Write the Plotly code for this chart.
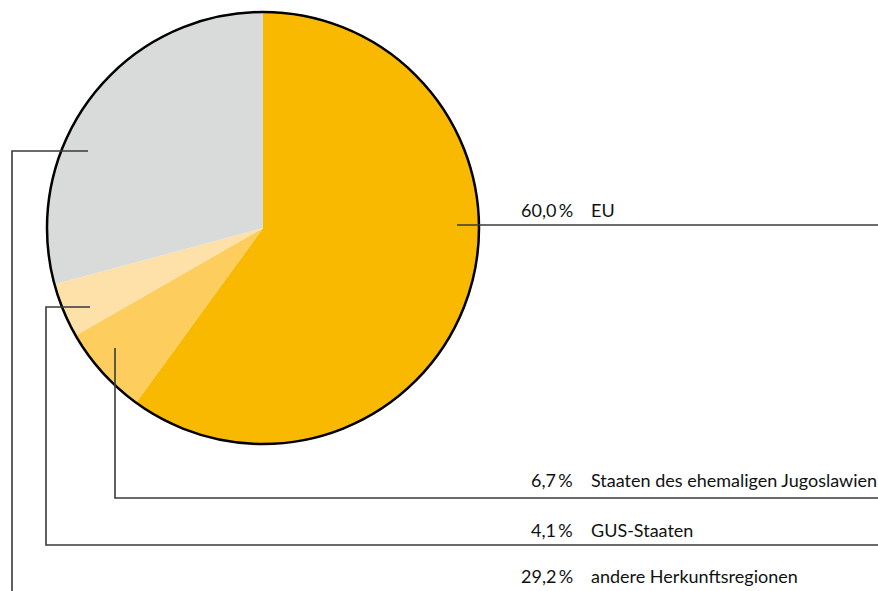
import plotly.graph_objects as go

W, H = 878, 591

# Data
categories = ["EU", "Staaten des ehemaligen Jugoslawien", "GUS-Staaten", "andere Herkunftsregionen"]
values = [60.0, 6.7, 4.1, 29.2]
value_labels = ["60,0\u2009%", "6,7\u2009%", "4,1\u2009%", "29,2\u2009%"]
colors = ["#F9B900", "#FDCD5E", "#FEE1A8", "#D9DADA"]

# Layout geometry (pixels)
cx, cy, r = 263, 228, 216
label_text_y = [210, 480, 530, 576]
pct_x, name_x = 575, 589
leaders = [
    [(457, 225), (878, 225)],
    [(115, 348), (115, 498), (878, 498)],
    [(90, 307), (46, 307), (46, 545), (878, 545)],
    [(88, 151), (12, 151), (12, 591)],
]

def px(x):
    return x / W

def py(y):
    return 1 - y / H

fig = go.Figure(go.Pie(
    labels=categories,
    values=values,
    sort=False,
    direction="clockwise",
    rotation=0,
    marker=dict(colors=colors, line=dict(width=0)),
    textinfo="none",
    hoverinfo="label+percent",
    domain=dict(x=[px(cx - r), px(cx + r)], y=[py(cy + r), py(cy - r)]),
    showlegend=False,
))

shapes = []
shapes.append(dict(type="circle", xref="paper", yref="paper",
                   x0=px(cx - r), x1=px(cx + r), y0=py(cy + r), y1=py(cy - r),
                   line=dict(color="#000000", width=2.5)))
for path in leaders:
    d = "M " + " L ".join(f"{px(x):.5f},{py(y):.5f}" for x, y in path)
    shapes.append(dict(type="path", xref="paper", yref="paper", path=d,
                       line=dict(color="#3a3a3a", width=1.6)))

annotations = []
font = dict(family="Lato, sans-serif", size=18, color="#111111")
for cat, lab, ty in zip(categories, value_labels, label_text_y):
    annotations.append(dict(xref="paper", yref="paper", x=px(pct_x), y=py(ty),
                            text=lab, showarrow=False, xanchor="right", yanchor="middle", font=font))
    annotations.append(dict(xref="paper", yref="paper", x=px(name_x), y=py(ty),
                            text=cat, showarrow=False, xanchor="left", yanchor="middle", font=font))

fig.update_layout(
    width=W, height=H,
    margin=dict(l=0, r=0, t=0, b=0),
    paper_bgcolor="white", plot_bgcolor="white",
    shapes=shapes, annotations=annotations,
)

fig.write_html("out.html", config={"displayModeBar": False},
               post_script="document.body.style.margin='0';document.body.style.overflow='hidden';")
